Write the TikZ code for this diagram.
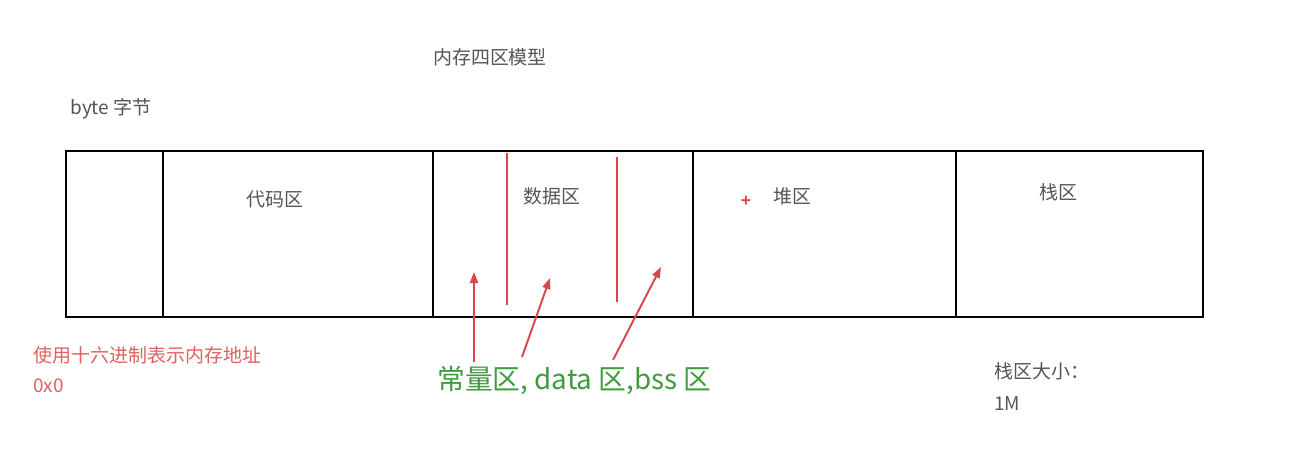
\documentclass[tikz,border=0pt]{standalone}
\usepackage{fontspec}
\setmainfont{Liberation Sans}
\newfontfamily\cjk{Noto Sans CJK SC}
\usepackage{xcolor}
\definecolor{cText}{HTML}{555555}
\definecolor{cRed}{HTML}{D9474B}
\definecolor{cNote}{HTML}{E06060}
\definecolor{cGreen}{HTML}{3E9B3E}
\usetikzlibrary{arrows.meta}
\tikzset{
  mem-cell/.style={draw=black,line width=1.6pt,inner sep=0pt},
  mem-label/.style={text=cText,font=\cjk\fontsize{10.8}{12}\selectfont,inner sep=0pt},
  note-red/.style={text=cNote,font=\cjk\fontsize{10.8}{12}\selectfont,inner sep=0pt,anchor=west},
  note-green/.style={text=cGreen,font=\cjk\fontsize{15.8}{18}\selectfont,inner sep=0pt,anchor=west},
  split-line/.style={draw=cRed,line width=1.2pt},
  arrow-red/.style={-{Triangle[length=2.2mm,width=1.6mm]},draw=cRed,line width=1.1pt},
}

\begin{document}
\begin{tikzpicture}[x=0.02cm,y=-0.02cm]
  \useasboundingbox (0,0) rectangle (1304,474);
  % titles
  \node[mem-label] (title) at (490,57) {内存四区模型};
  \node[mem-label,anchor=west] (byte) at (70,109) {byte 字节};
  % memory strip
  \coordinate (c0) at (66,151);
  \coordinate (c1) at (163,317);
  \coordinate (c2) at (433,151);
  \coordinate (c3) at (693,317);
  \coordinate (c4) at (956,151);
  \coordinate (c5) at (1203,317);
  \draw[mem-cell] (c0) rectangle (c5);
  \draw[mem-cell] (c1 |- c0) -- (c1);
  \draw[mem-cell] (c2) -- (c2 |- c1);
  \draw[mem-cell] (c3 |- c0) -- (c3);
  \draw[mem-cell] (c4) -- (c4 |- c1);
  \node[mem-label] (code)  at (275,199)  {代码区};
  \node[mem-label] (data)  at (552,196)  {数据区};
  \node[mem-label] (heap)  at (792,196)  {堆区};
  \node[mem-label] (stack) at (1058,192) {栈区};
  \node[text=cRed,font=\bfseries\fontsize{10}{10}\selectfont,inner sep=0pt] (plus) at (746,201) {+};
  % data segment split
  \coordinate (s1a) at (507,153);
  \coordinate (s1b) at (507,305);
  \coordinate (s2a) at (617,157);
  \coordinate (s2b) at (617,302);
  \draw[split-line] (s1a) -- (s1b);
  \draw[split-line] (s2a) -- (s2b);
  % notes
  \node[note-red] (hex)  at (33,355) {使用十六进制表示内存地址};
  \node[note-red] (zero) at (33,386) {0x0};
  \node[note-green] (seg) at (437,380) {常量区, data 区,bss 区};
  \node[mem-label,anchor=west] (size) at (994,371) {栈区大小：};
  \node[mem-label,anchor=west] (mega) at (994,404) {1M};
  % arrows
  \coordinate (t1) at (474,272);
  \coordinate (t2) at (550,278);
  \coordinate (t3) at (661,267);
  \draw[arrow-red] (474,362) -- (t1);
  \draw[arrow-red] (522,357) -- (t2);
  \draw[arrow-red] (613,360) -- (t3);
\end{tikzpicture}
\end{document}
